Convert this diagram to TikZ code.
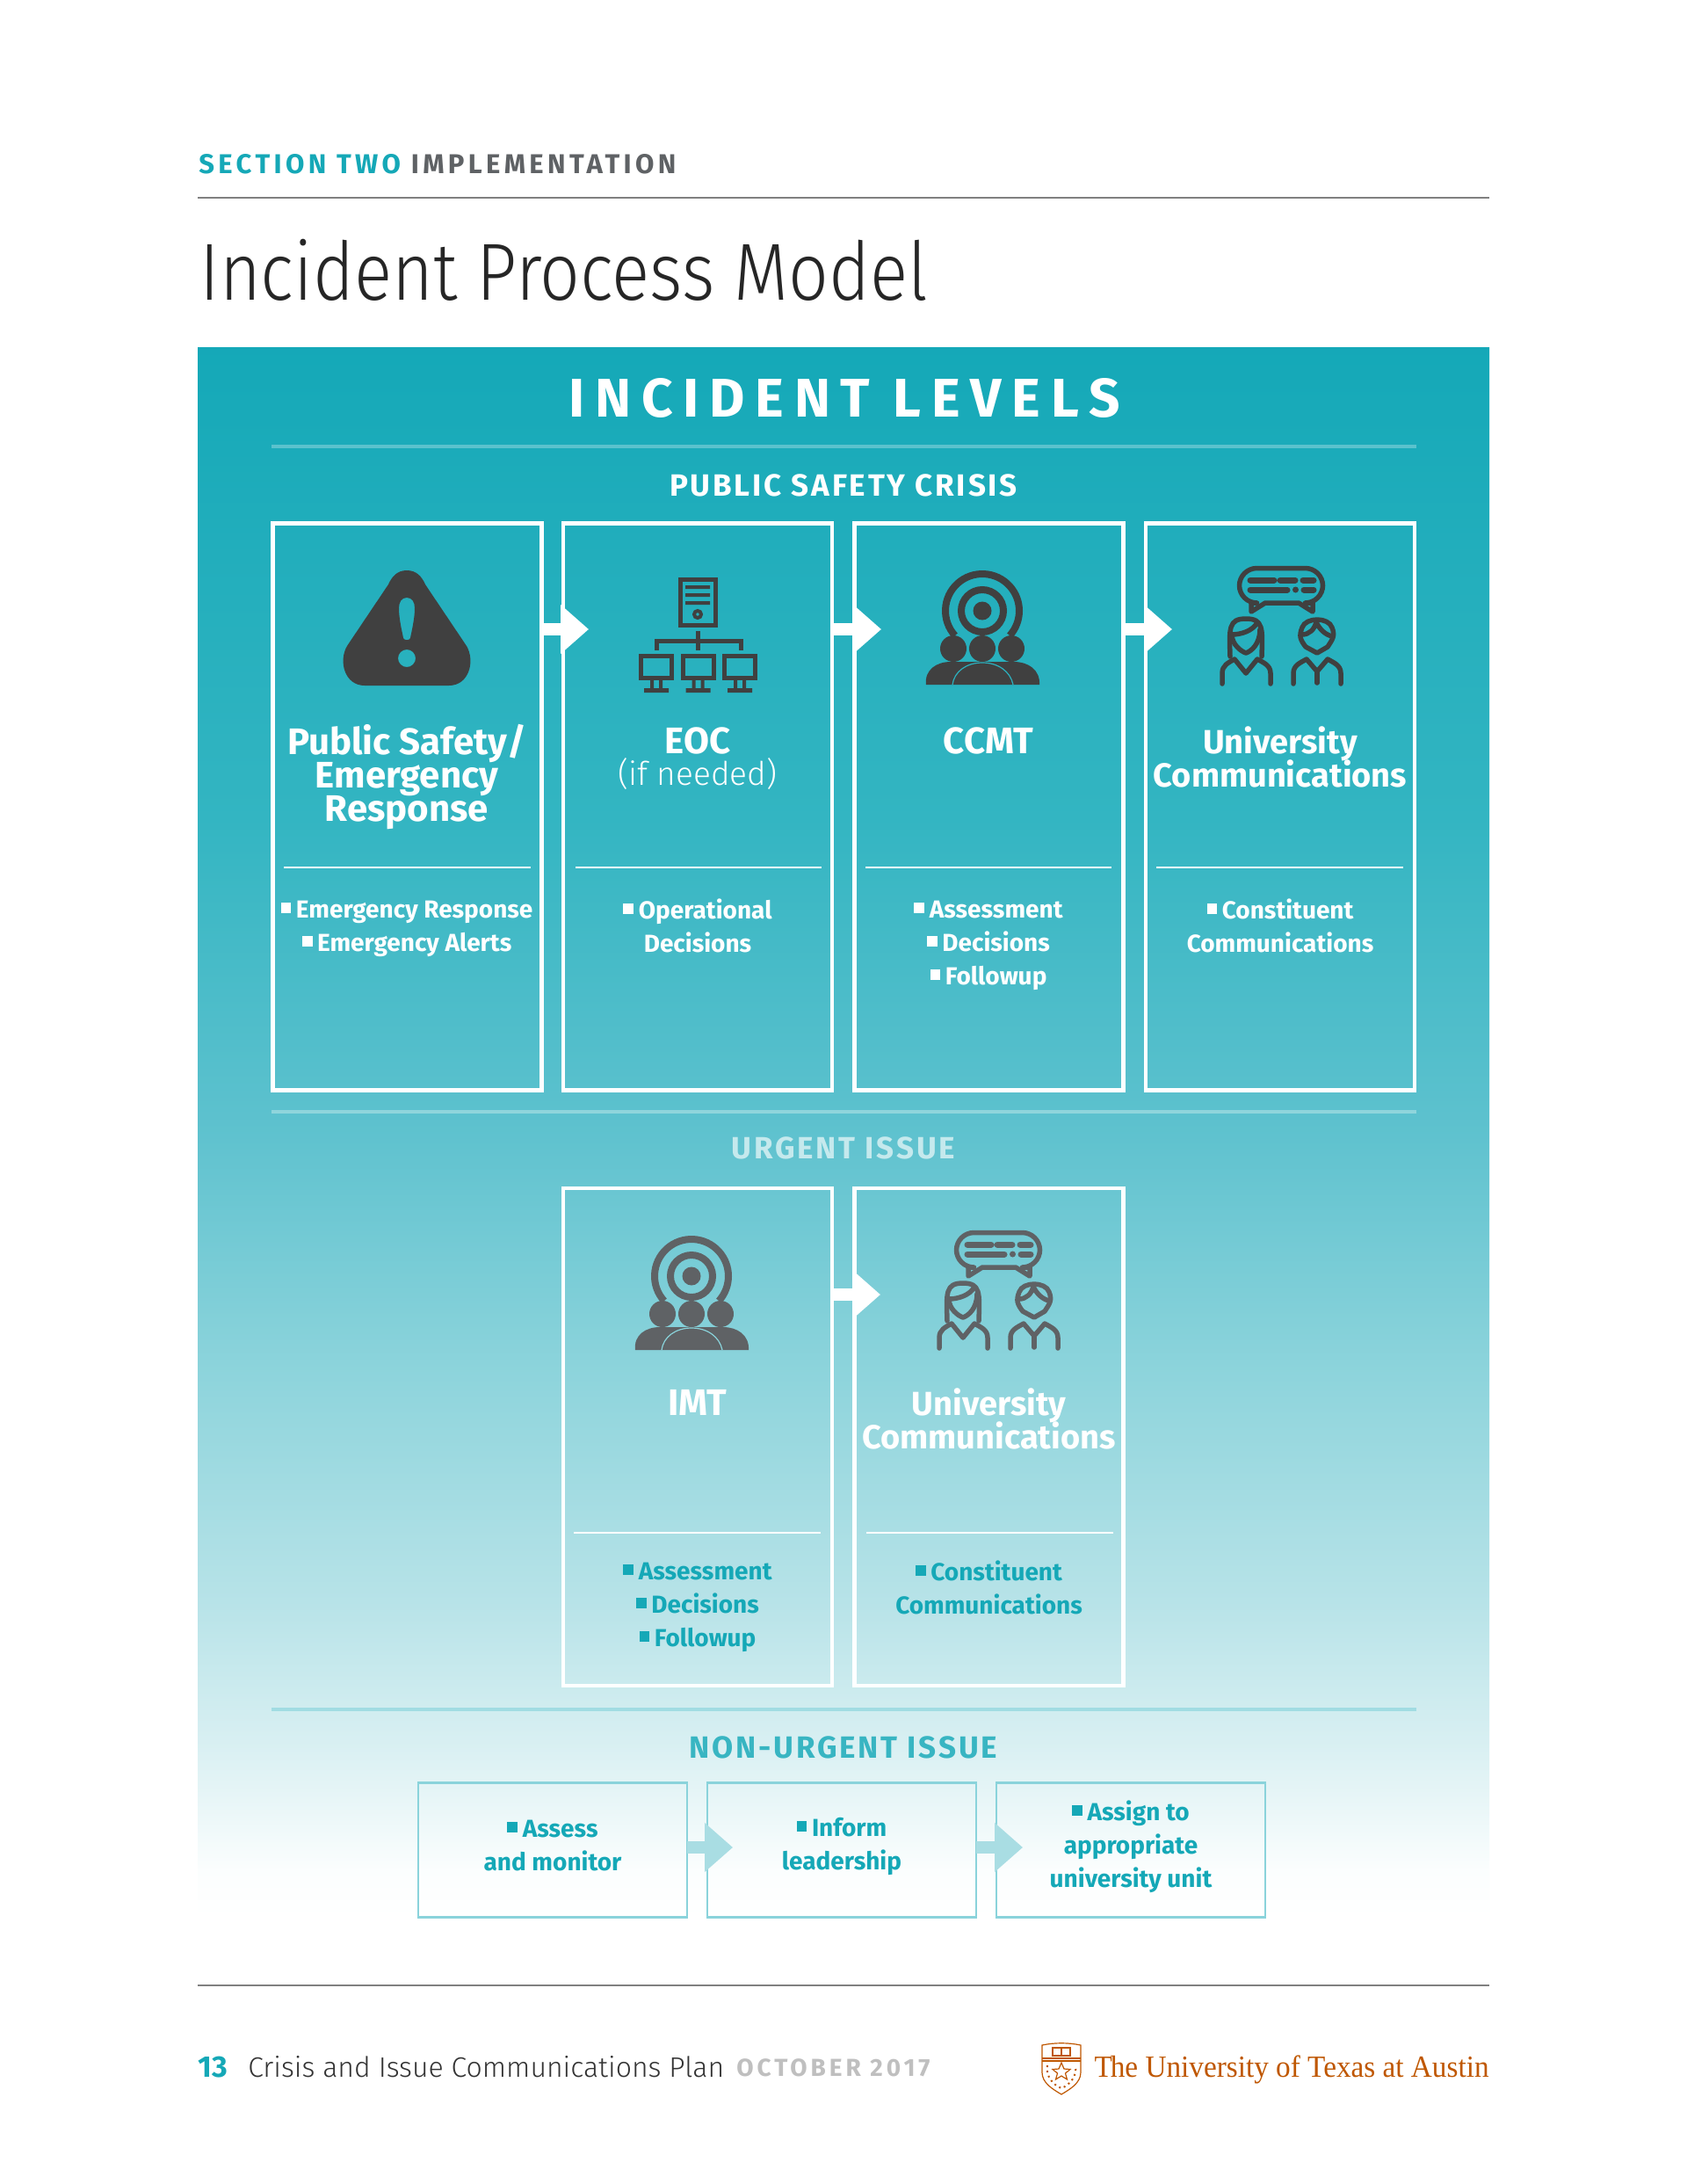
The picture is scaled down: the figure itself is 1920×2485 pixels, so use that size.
\documentclass[tikz,border=0pt]{standalone}
\usepackage{fontspec}
\setmainfont{Fira Sans}
\newfontfamily\lightf{Fira Sans Light}
\newfontfamily\logof{Liberation Serif}[FakeStretch=.95]
\usetikzlibrary{arrows.meta,calc}
\definecolor{teal1}{HTML}{15A8B7}
\definecolor{rulegray}{HTML}{808080}
\definecolor{ink}{HTML}{404040}
\definecolor{ink2}{HTML}{5F6265}
\definecolor{ut}{HTML}{BF5700}
\pgfdeclareverticalshading{panelgrad}{100bp}{
 rgb(0bp)=(1,1,1);
 rgb(25bp)=(1,1,1);
 rgb(26.5bp)=(.985,.995,.995);
 rgb(30.5bp)=(.85,.94,.95);
 rgb(35bp)=(.72,.89,.91);
 rgb(42.5bp)=(.55,.83,.86);
 rgb(50bp)=(.37,.76,.81);
 rgb(60bp)=(.20,.71,.76);
 rgb(75bp)=(.08,.66,.72);
 rgb(100bp)=(.08,.66,.72)}
\newcommand{\bul}{\rule[.2em]{.42em}{.42em}\hspace{.2em}}
\newcommand{\headfont}[1]{\fontsize{#1}{19}\selectfont\bfseries\setlength{\lineskiplimit}{-20pt}\setlength{\lineskip}{0pt}}
\tikzset{
 x=0.5pt,y=-0.5pt,
 stagebox/.style={draw=white,line width=2.25pt,minimum width=153pt,inner sep=0pt,outer sep=0pt},
 smallbox/.style={draw=#1,line width=1.25pt,minimum width=153pt,minimum height=76.5pt,inner sep=0pt,outer sep=0pt},
 divider/.style={draw=white,line width=.7pt},
 bandrule/.style={line width=2pt},
 bigarrow/.style={draw=#1,line width=7pt,-{Triangle[length=16pt,width=27pt,fill=#1]},shorten <=0pt},
 headtxt/.style={font=\headfont{21},text=white,align=center,inner sep=0pt},
 unitxt/.style={font=\headfont{19},text=white,align=center,inner sep=0pt},
 listtxt/.style={font=\fontsize{14}{19}\selectfont\bfseries,align=center,inner sep=0pt},
 bandtxt/.style={font=\fontsize{17.5}{17.5}\selectfont\bfseries\addfontfeature{LetterSpace=8},inner sep=0pt},
}
\newcommand{\ccmtIcon}[4]{%
\begin{scope}[shift={(#1,#2)}]
 \draw[#3,line width=4pt] (1118,695) ++(138:42) arc[start angle=138,end angle=402,radius=42];
 \draw[#3,line width=4pt] (1118,695) circle[radius=24];
 \fill[#3] (1118,695) circle[radius=10.5];
 \fill[#3] (1085,738) circle[radius=15] (1118,738) circle[radius=15] (1151,738) circle[radius=15];
 \fill[#3] (1054,779) .. controls (1052,762) and (1066,753) .. (1082,753) -- (1154,753) .. controls (1170,753) and (1184,762) .. (1183,779) -- cycle;
 \draw[#4,line width=.6pt] (1084,779) .. controls (1086,764) and (1100,754) .. (1118,754) .. controls (1136,754) and (1150,764) .. (1153,779);
\end{scope}}
\newcommand{\ucIcon}[3]{%
\begin{scope}[shift={(#1,#2)},#3,line width=2.75pt,line cap=round,line join=round]
 \draw[rounded corners=10pt] (1424,686) -- (1410.5,686) -- (1410.5,646.5) -- (1505.5,646.5) -- (1505.5,686) -- (1494,686);
 \draw (1424,686) -- (1424,696) -- (1440,686) -- (1478,686) -- (1494,696) -- (1494,686);
 \draw[line width=3.5pt] (1423,660) -- (1450,660) (1457,660) -- (1474,660) (1483,660) -- (1495,660)
   (1423,671) -- (1465,671) (1484,671) -- (1495,671);
 \fill (1474.5,671) circle[radius=3.5];
 % woman
 \draw (1400,747) .. controls (1399,715) and (1398,704) .. (1418,704) .. controls (1438,704) and (1437,715) .. (1436,747);
 \draw (1402,722) .. controls (1412,722) and (1426,718) .. (1431,708);
 \draw (1402,722) .. controls (1402,733) and (1412,741) .. (1418,743) .. controls (1424,741) and (1434,733) .. (1434,716);
 \draw (1391,778) -- (1391,766) .. controls (1391,757) and (1398,754) .. (1405,750) -- (1418,766) -- (1431,750) .. controls (1438,754) and (1446,757) .. (1446,766) -- (1446,778);
 % man
 \draw (1486,736) .. controls (1480,728) and (1478,724) .. (1482,714) .. controls (1486,702) and (1512,702) .. (1516,714) .. controls (1520,724) and (1516,728) .. (1511,736) -- (1499,743) -- cycle;
 \draw (1482,722) .. controls (1490,722) and (1496,716) .. (1498,708) .. controls (1502,716) and (1508,722) .. (1516,724);
 \draw (1472,778) -- (1472,766) .. controls (1472,757) and (1480,754) .. (1487,750) -- (1499,764) -- (1511,750) .. controls (1518,754) and (1526,757) .. (1526,766) -- (1526,778);
 \draw (1499,765) -- (1499,777);
\end{scope}}
\begin{document}
\begin{tikzpicture}
\useasboundingbox (0,0) rectangle (1920,2485);
\fill[white] (0,0) rectangle (1920,2485);
% page header
\node[anchor=base west,inner sep=0pt,font=\fontsize{15.5}{15.5}\selectfont\bfseries\addfontfeature{LetterSpace=14},text=teal1] (sec) at (226,197) {SECTION TWO \textcolor{ink2}{IMPLEMENTATION}};
\draw[rulegray,line width=.8pt] (225,225) -- (1695,225);
\node[anchor=base west,inner sep=0pt,font={\fontsize{46}{46}\lightf\addfontfeature{FakeStretch=.873}},text=black!85] (title) at (227,341) {Incident Process Model};
% panel
\fill[shading=panelgrad] (225,395) rectangle (1695,2182);
\node[font=\fontsize{31}{31}\selectfont\bfseries\addfontfeature{LetterSpace=19},text=white,inner sep=0pt] (lev) at (961,453) {INCIDENT LEVELS};
\draw[bandrule,color=white!30!teal1] (309,508) -- (1612,508);
\node[bandtxt,text=white] (b1) at (960,552) {PUBLIC SAFETY CRISIS};
\draw[bandrule,color=white!52!teal1] (309,1265) -- (1612,1265);
\node[bandtxt,text=white!75!teal1] (b2) at (960,1306) {URGENT ISSUE};
\draw[bandrule,color=white!60!teal1] (309,1945) -- (1612,1945);
\node[bandtxt,text=white!15!teal1] (b3) at (960,1988) {NON-URGENT ISSUE};
% row 1 boxes
\foreach \n/\x in {p1/463.5,p2/794,p3/1125.5,p4/1457}
  \node[stagebox,minimum height=322.5pt] (\n) at (\x,918) {};
\foreach \n/\x in {q1/794,q2/1125.5}
  \node[stagebox,minimum height=283pt] (\n) at (\x,1635) {};
\foreach \n/\x in {s1/629,s2/958,s3/1287}
  \node[smallbox=white!50!teal1] (\n) at (\x,2105) {};
% arrows
\coordinate (t1) at (670,716);
\coordinate (t2) at (1003,716);
\coordinate (t3) at (1334,716);
\coordinate (t4) at (1002,1473);
\coordinate (t5) at (834,2102);
\coordinate (t6) at (1164,2102);
\draw[bigarrow=white] (p1.east |- t1) -- (t1);
\draw[bigarrow=white] (p2.east |- t2) -- (t2);
\draw[bigarrow=white] (p3.east |- t3) -- (t3);
\draw[bigarrow=white] (q1.east |- t4) -- (t4);
\definecolor{arr}{HTML}{A9DDE3}
\draw[bigarrow=arr] (s1.east |- t5) -- (t5);
\draw[bigarrow=arr] (s2.east |- t6) -- (t6);
% dividers
\draw[divider] (323,987) -- (604,987) (655,987) -- (935,987) (985,987) -- (1265,987) (1316,987) -- (1597,987);
\draw[divider] (653,1744) -- (934,1744) (986,1744) -- (1267,1744);
% icons row 1
\fill[ink,even odd rule] (463,649) .. controls (452,649) and (446,656) .. (442,665) -- (395,735) .. controls (385,752) and (392,780) .. (415,780) -- (511,780) .. controls (534,780) and (541,752) .. (531,735) -- (484,665) .. controls (480,656) and (474,649) .. (463,649) -- cycle
 (463,680) .. controls (457,680) and (454,685) .. (454,692) .. controls (454,705) and (458,720) .. (459,726) .. controls (460,729) and (466,729) .. (467,726) .. controls (468,720) and (472,705) .. (472,692) .. controls (472,685) and (469,680) .. (463,680) -- cycle
 (473,749) arc[start angle=0,end angle=360,radius=10];
% EOC icon
\begin{scope}[ink]
 \draw[line width=2.5pt] (774.5,659.5) rectangle (814,711.5);
 \fill (780,666) rectangle (808,670) (780,675) rectangle (808,679) (780,684) rectangle (808,688);
 \draw[line width=2pt] (794,699) circle[radius=4];
 \draw[line width=2.5pt] (794,718) -- (794,740) (747.5,740) -- (747.5,729) -- (843,729) -- (843,740);
 \foreach \c in {747,794.5,842}{
  \draw[line width=2.5pt] (\c-17.5,746.5) rectangle (\c+17.5,771.5);
  \fill (\c-7,774) rectangle (\c-3,783) (\c+3,774) rectangle (\c+7,783) (\c-14,783) rectangle (\c+14,788);
 }
\end{scope}
\ccmtIcon{0}{0}{ink}{teal1!90!white}
\ucIcon{0}{0}{ink}
% icons row 2
\ccmtIcon{-331}{757}{ink2}{white!50!teal1}
\ucIcon{-322}{756}{ink2}
% row 1 headings
\node[headtxt] (h1) at (463,884) {Public Safety/\\Emergency\\Response};
\node[headtxt] (h2) at (794,843) {EOC};
\node[inner sep=0pt,font=\fontsize{18.5}{19}\lightf,text=white] (h2b) at (794,881) {(if needed)};
\node[headtxt] (h3) at (1125,843) {CCMT};
\node[unitxt] (h4) at (1457,861) {University\\Communications};
\node[listtxt,text=white] (l1) at (463,1057) {\bul Emergency Response\\\bul Emergency Alerts};
\node[listtxt,text=white] (l2) at (794,1053) {\bul Operational\\Decisions};
\node[listtxt,text=white] (l3) at (1125,1076) {\bul Assessment\\\bul Decisions\\\bul Followup};
\node[listtxt,text=white] (l4) at (1457,1053) {\bul Constituent\\Communications};
% row 2 text
\node[headtxt] (h5) at (794,1596) {IMT};
\node[unitxt] (h6) at (1125.5,1614) {University\\Communications};
\node[listtxt,text=teal1] (l5) at (794,1829) {\bul Assessment\\\bul Decisions\\\bul Followup};
\node[listtxt,text=teal1] (l6) at (1125.5,1806) {\bul Constituent\\Communications};
% row 3 text
\node[listtxt,text=teal1] (l7) at (629,2100) {\bul Assess\\and monitor};
\node[listtxt,text=teal1] (l8) at (958,2101) {\bul Inform\\leadership};
\node[listtxt,text=teal1] (l9) at (1287,2101) {\bul Assign to\\appropriate\\university unit};
% footer
\draw[rulegray,line width=.8pt] (225,2259) -- (1695,2259);
\node[anchor=base west,inner sep=0pt,font=\fontsize{17}{17}\selectfont\bfseries,text=teal1] (pg) at (225,2363) {13};
\node[anchor=base west,inner sep=0pt,font=\fontsize{16}{17}\lightf,text=black!80] (ft) at (282,2363) {Crisis and Issue Communications Plan};
\node[anchor=base west,inner sep=0pt,font=\fontsize{14}{14}\selectfont\bfseries\addfontfeature{LetterSpace=14},text=black!25] (dt) at (838,2362) {OCTOBER 2017};
% logo
\begin{scope}[ut,line width=.6pt]
 \draw (1186,2327) .. controls (1200,2324) and (1216,2324) .. (1230,2327) -- (1230,2358) .. controls (1230,2370) and (1218,2377) .. (1208,2383) .. controls (1198,2377) and (1186,2370) .. (1186,2358) -- cycle;
 \draw (1186,2342) -- (1230,2342) (1186,2345) -- (1230,2345);
 \draw (1198,2330) rectangle (1218,2339) (1208,2330) -- (1208,2339);
 \draw (1208,2347) -- (1211,2354) -- (1218,2354.5) -- (1212.5,2359) -- (1214.5,2366) -- (1208,2362) -- (1201.5,2366) -- (1203.5,2359) -- (1198,2354.5) -- (1205,2354) -- cycle;
 \draw[line width=1pt,dotted] (1192,2350) .. controls (1190,2362) and (1198,2372) .. (1208,2376) .. controls (1218,2372) and (1226,2362) .. (1224,2350);
\end{scope}
\node[anchor=base east,inner sep=0pt,font=\fontsize{17.5}{17.5}\logof,text=ut] (lg) at (1695,2363) {T\kern-1pt he University of Texas at Austin};
\end{tikzpicture}
\end{document}
